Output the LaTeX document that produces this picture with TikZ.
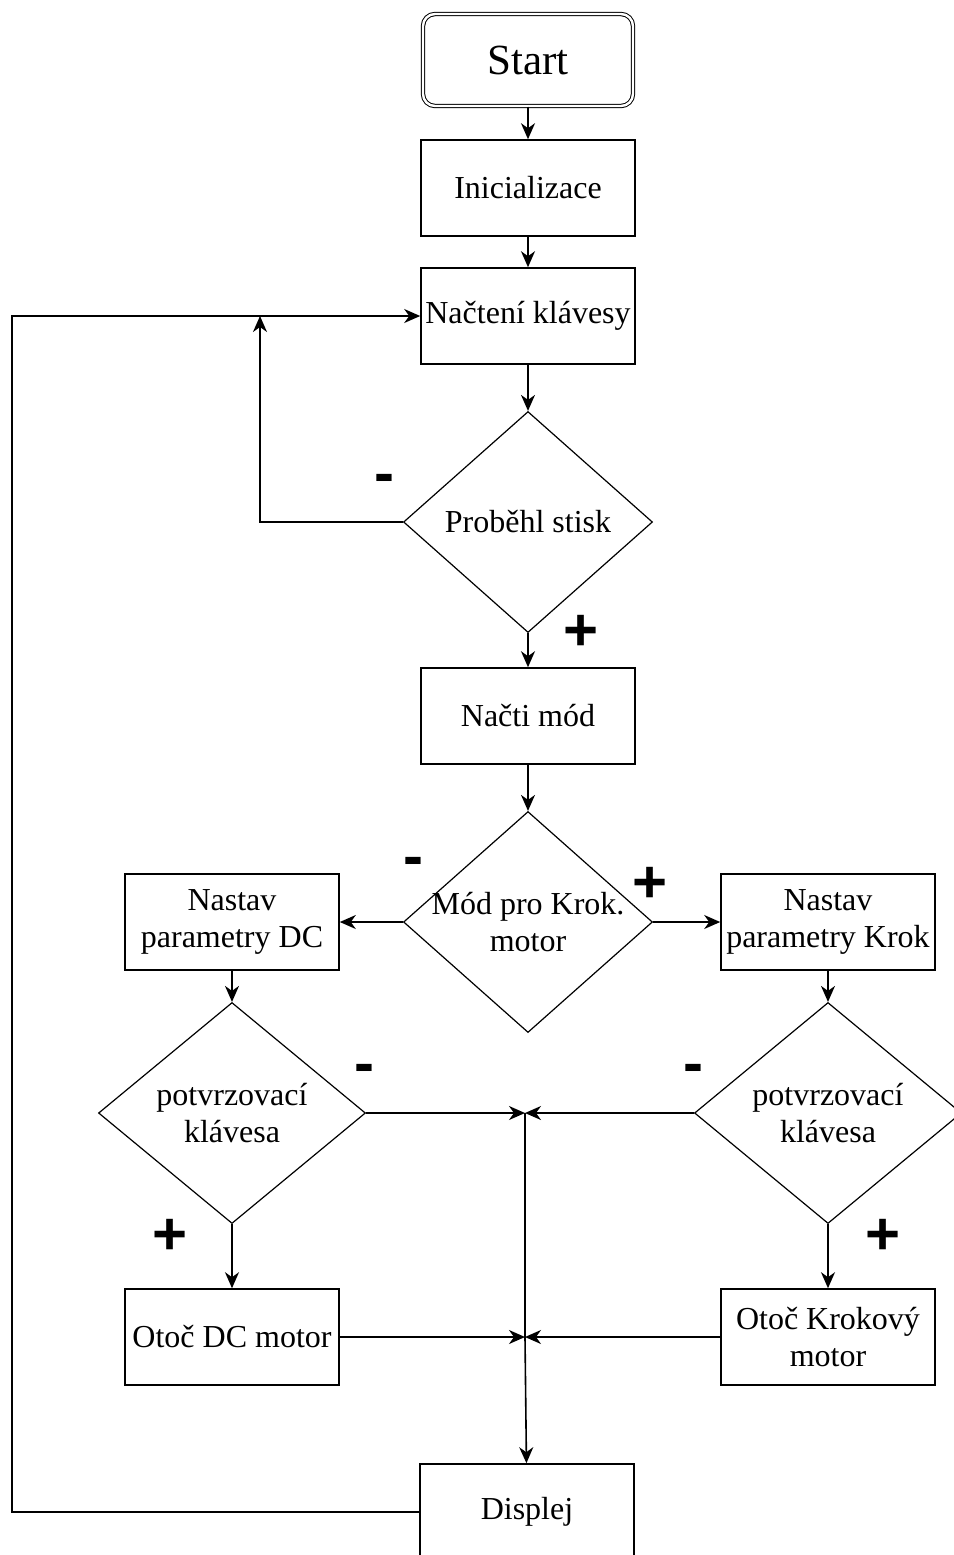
\documentclass[tikz,border=0pt]{standalone}
\usepackage{fontspec}
\setmainfont{Liberation Serif}
\setsansfont{Liberation Sans}
\usetikzlibrary{shapes.geometric,arrows.meta}

\tikzset{
  box/.style={draw, line width=0.8pt, minimum width=107pt, minimum height=48pt, inner sep=1pt, align=center, font=\fontsize{16}{18.5}\selectfont},
  dec/.style={draw, diamond, line width=0.6pt, inner sep=0pt, minimum width=124.5pt, minimum height=110.5pt},
  widedec/.style={dec, minimum width=133.5pt},
  dectext/.style={align=center, font=\fontsize{16}{18.5}\selectfont, inner sep=0pt},
  sign/.style={font=\sffamily\bfseries\fontsize{30}{30}\selectfont, inner sep=0pt},
  arr/.style={-{Stealth[length=8pt,width=7pt,inset=2.5pt]}, line width=0.8pt},
  conn/.style={line width=0.8pt}
}

\begin{document}
\begin{tikzpicture}[x=0.5pt,y=-0.5pt]
\useasboundingbox (0,0) rectangle (954,1555);

% main column
\node[draw, double, double distance=1.2pt, line width=0.5pt, rounded corners=6pt,
  minimum width=105pt, minimum height=46pt, font=\fontsize{21.5}{24}\selectfont] (start) at (528,60) {Start};
\node[box] (init) at (528,188) {Inicializace};
\node[box] (klav) at (528,316) {Načtení klávesy};
\node[dec, label={[dectext]center:Proběhl stisk}] (stisk) at (528,522) {};
\node[box] (mod) at (528,716) {Načti mód};
\node[dec, label={[dectext]center:{Mód pro Krok.\\motor}}] (modk) at (528,922) {};

% branches
\node[box] (dc) at (232,922) {Nastav\\parametry DC};
\node[box] (krok) at (828,922) {Nastav\\parametry Krok};
\node[widedec, label={[dectext]center:{potvrzovací\\klávesa}}] (pl) at (232,1113) {};
\node[widedec, label={[dectext]center:{potvrzovací\\klávesa}}] (pr) at (828,1113) {};
\node[box] (otdc) at (232,1337) {Otoč DC motor};
\node[box] (otkrok) at (828,1337) {Otoč Krokový\\motor};
\node[box] (disp) at (527,1512) {Displej};

% signs
\node[sign] (stm) at (384,484) {-};
\node[sign] (stp) at (581,633) {+};
\node[sign] (mdm) at (413,867) {-};
\node[sign] (mdp) at (650,885) {+};
\node[sign] (plm) at (364,1074) {-};
\node[sign] (plp) at (170,1237) {+};
\node[sign] (prm) at (693,1074) {-};
\node[sign] (prp) at (883,1237) {+};

\coordinate (merge) at (260,316);
\coordinate (back) at (12,316);
\coordinate (jtop) at (525,1113);
\coordinate (jbot) at (525,1337);

\draw[arr] (start) -- (init);
\draw[arr] (init) -- (klav);
\draw[arr] (klav) -- (stisk);
\draw[arr] (stisk) -- (mod);
\draw[arr] (mod) -- (modk);
\draw[arr] (stisk.west) -| (merge);
\draw[arr] (modk) -- (dc);
\draw[arr] (modk) -- (krok);
\draw[arr] (dc) -- (pl);
\draw[arr] (krok) -- (pr);
\draw[arr] (pl) -- (otdc);
\draw[arr] (pr) -- (otkrok);
\draw[arr] (pl) -- (jtop);
\draw[arr] (pr) -- (jtop);
\draw[arr] (otdc) -- (jbot);
\draw[arr] (otkrok) -- (jbot);
\draw[conn] (jtop) -- (jbot);
\draw[arr] (jbot) -- (disp);
\draw[arr] (disp.west) -| (back) -- (klav.west);
\end{tikzpicture}
\end{document}
